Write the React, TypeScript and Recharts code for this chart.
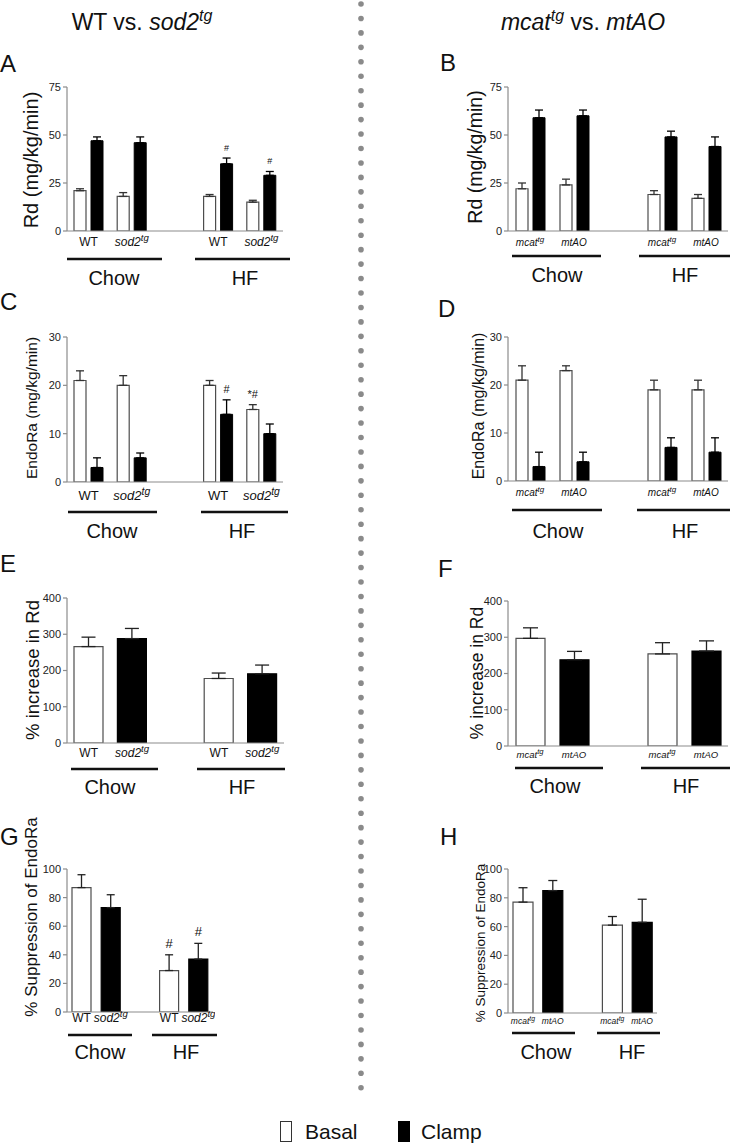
import React from "react";
import { BarChart, Bar, XAxis, YAxis, ErrorBar, LabelList, Cell } from "recharts";

const FONT = "'Liberation Sans', Arial, Helvetica, sans-serif";
const AXIS = "#8c8c8c";
const BASAL_STROKE = "#4d4d4d";

// genotypes per comparison, "^" marks the superscript part
const sodGenos = ["WT", "sod2^tg"];
const mtGenos = ["mcat^tg", "mtAO"];
const diets = ["Chow", "HF"];
const legendNames = ["Basal", "Clamp"];

// order of values: Chow-geno1, Chow-geno2, HF-geno1, HF-geno2
// A: Rd, WT vs sod2tg
const rdSodBasal = [21, 18, 18, 15];
const rdSodBasalErr = [1, 2, 1, 1];
const rdSodClamp = [47, 46, 35, 29];
const rdSodClampErr = [2, 3, 3, 2];
const rdSodClampMarks = ["", "", "#", "#"];

// B: Rd, mcattg vs mtAO
const rdMtBasal = [22, 24, 19, 17];
const rdMtBasalErr = [3, 3, 2, 2];
const rdMtClamp = [59, 60, 49, 44];
const rdMtClampErr = [4, 3, 3, 5];

// C: EndoRa, WT vs sod2tg
const endoSodBasal = [21, 20, 20, 15];
const endoSodBasalErr = [2, 2, 1, 1];
const endoSodClamp = [3, 5, 14, 10];
const endoSodClampErr = [2, 1, 3, 2];
const endoSodBasalMarks = ["", "", "", "*#"];
const endoSodClampMarks = ["", "", "#", ""];

// D: EndoRa, mcattg vs mtAO
const endoMtBasal = [21, 23, 19, 19];
const endoMtBasalErr = [3, 1, 2, 2];
const endoMtClamp = [3, 4, 7, 6];
const endoMtClampErr = [3, 2, 2, 3];

// E/F: % increase in Rd
const rdIncSod = [266, 288, 178, 191];
const rdIncSodErr = [26, 28, 15, 24];
const rdIncMt = [297, 238, 254, 262];
const rdIncMtErr = [29, 23, 31, 28];

// G/H: % suppression of EndoRa
const suppSod = [87, 73, 29, 37];
const suppSodErr = [9, 9, 11, 11];
const suppSodMarks = ["", "", "#", "#"];
const suppMt = [77, 85, 61, 63];
const suppMtErr = [10, 7, 6, 16];

const YW = 60;
const MT = 60;
const MR = 2;
const XH = 34;

type Frame = {
  left: number; top: number; w: number; h: number;
  yMax: number; ticks: number[];
  yLabel: string; yLabelSize: number; yLabelX: number; yLabelY: number;
  tickFont: number; tickDy: number; capW: number; markFont?: number; barSize: number;
};

// pair panels: one row per genotype, blank slot between the diets
const pairRows = (genos, basal, basalErr, clamp, clampErr, basalMarks = [], clampMarks = []) => {
  const rows = basal.map((b, i) => ({
    geno: genos[i % 2],
    basal: b,
    basalErr: [0, basalErr[i]],
    clamp: clamp[i],
    clampErr: [0, clampErr[i]],
    basalMark: basalMarks[i] || "",
    clampMark: clampMarks[i] || "",
  }));
  return [rows[0], rows[1], { geno: "" }, rows[2], rows[3]];
};

const singleRows = (genos, vals, errs, marks = []) => {
  const rows = vals.map((v, i) => ({
    geno: genos[i % 2],
    val: v,
    err: [0, errs[i]],
    mark: marks[i] || "",
    dark: i % 2 === 1,
  }));
  return [rows[0], rows[1], { geno: "" }, rows[2], rows[3]];
};

const GenoTick = (props: any) => {
  const { x, y, payload, fontSize, dy } = props;
  const v = payload?.value;
  if (!v) return null;
  const [base, sup] = String(v).split("^");
  return (
    <text x={x} y={y + dy} textAnchor="middle" fontSize={fontSize} fontFamily={FONT} fill="#111">
      <tspan fontStyle={base === "WT" ? "normal" : "italic"}>{base}</tspan>
      {sup && (
        <tspan fontStyle="italic" fontSize={fontSize * 0.8} dy={-fontSize * 0.38}>
          {sup}
        </tspan>
      )}
    </text>
  );
};

const markContent = (f: Frame, errs: number[]) => (props: any) => {
  const vb = props.viewBox || props;
  const { value, index } = props;
  if (!value || index == null) return null;
  const x = vb.x ?? props.x;
  const y = vb.y ?? props.y;
  const width = vb.width ?? props.width;
  const errPx = ((errs[index] || 0) * f.h) / f.yMax;
  return (
    <text
      x={x + width / 2}
      y={y - errPx - 7}
      textAnchor="middle"
      fontSize={f.markFont || 10}
      fontFamily={FONT}
      fill="#111"
    >
      {value}
    </text>
  );
};

const yLabelProp = (f: Frame) => ({
  content: (props: any) => {
    const vb = props.viewBox;
    const cx = vb.x + vb.width - (f.left - f.yLabelX);
    const cy = vb.y + vb.height / 2 + (f.yLabelY - (f.top + f.h / 2));
    return (
      <text
        x={cx}
        y={cy}
        transform={`rotate(-90 ${cx} ${cy})`}
        textAnchor="middle"
        dominantBaseline="central"
        fontSize={f.yLabelSize}
        fontFamily={FONT}
        fill="#111"
      >
        {f.yLabel}
      </text>
    );
  },
});

const chartBox = (f: Frame): React.CSSProperties => ({
  position: "absolute",
  left: f.left - YW,
  top: f.top - MT,
});

const commonAxes = (f: Frame) => [
  <XAxis
    key="x"
    dataKey="geno"
    interval={0}
    height={XH}
    tickLine={false}
    tickSize={0}
    tickMargin={0}
    axisLine={{ stroke: AXIS, strokeWidth: 1.2 }}
    tick={<GenoTick fontSize={f.tickFont} dy={f.tickDy} />}
  />,
  <YAxis
    key="y"
    width={YW}
    domain={[0, f.yMax]}
    ticks={f.ticks}
    allowDataOverflow
    tickSize={4}
    tickLine={{ stroke: AXIS, strokeWidth: 1.2 }}
    axisLine={{ stroke: AXIS, strokeWidth: 1.2 }}
    tick={{ fontSize: 11, fill: "#222", fontFamily: FONT }}
    label={yLabelProp(f)}
  />,
];

const PairPanel = ({ f, data, basalErr, clampErr }: any) => (
  <div style={chartBox(f)}>
    <BarChart
      width={YW + f.w + MR}
      height={MT + f.h + XH}
      data={data}
      margin={{ top: MT, right: MR, left: 0, bottom: 0 }}
      barGap={5}
    >
      {commonAxes(f)}
      <Bar dataKey="basal" fill="#ffffff" stroke={BASAL_STROKE} strokeWidth={1.2} barSize={f.barSize} isAnimationActive={false}>
        <ErrorBar dataKey="basalErr" width={f.capW} stroke="#333" strokeWidth={1.3} direction="y" />
        <LabelList dataKey="basalMark" content={markContent(f, basalErr)} />
      </Bar>
      <Bar dataKey="clamp" fill="#000000" stroke="#000000" strokeWidth={1} barSize={f.barSize} isAnimationActive={false}>
        <ErrorBar dataKey="clampErr" width={f.capW} stroke="#000" strokeWidth={1.3} direction="y" />
        <LabelList dataKey="clampMark" content={markContent(f, clampErr)} />
      </Bar>
    </BarChart>
  </div>
);

const SinglePanel = ({ f, data, errs }: any) => (
  <div style={chartBox(f)}>
    <BarChart
      width={YW + f.w + MR}
      height={MT + f.h + XH}
      data={data}
      margin={{ top: MT, right: MR, left: 0, bottom: 0 }}
    >
      {commonAxes(f)}
      <Bar dataKey="val" barSize={f.barSize} strokeWidth={1.2} isAnimationActive={false}>
        {data.map((d, i) => (
          <Cell key={i} fill={d.dark ? "#000" : "#fff"} stroke={d.dark ? "#000" : BASAL_STROKE} />
        ))}
        <ErrorBar dataKey="err" width={f.capW} stroke="#222" strokeWidth={1.3} direction="y" />
        <LabelList dataKey="mark" content={markContent(f, errs)} />
      </Bar>
    </BarChart>
  </div>
);

const fA: Frame = { left: 67, top: 87, w: 216, h: 144, yMax: 75, ticks: [0, 25, 50, 75], yLabel: "Rd (mg/kg/min)", yLabelSize: 20, yLabelX: 31, yLabelY: 160, tickFont: 12, tickDy: 15, capW: 4, markFont: 9, barSize: 12 };
const fB: Frame = { left: 508, top: 87, w: 220, h: 144, yMax: 75, ticks: [0, 25, 50, 75], yLabel: "Rd (mg/kg/min)", yLabelSize: 19.5, yLabelX: 475, yLabelY: 157, tickFont: 10, tickDy: 15, capW: 4, barSize: 12 };
const fC: Frame = { left: 67, top: 337, w: 216, h: 145, yMax: 30, ticks: [0, 10, 20, 30], yLabel: "EndoRa (mg/kg/min)", yLabelSize: 15.5, yLabelX: 31, yLabelY: 408, tickFont: 13, tickDy: 18, capW: 4, markFont: 11, barSize: 12 };
const fD: Frame = { left: 508, top: 337, w: 220, h: 144, yMax: 30, ticks: [0, 10, 20, 30], yLabel: "EndoRa (mg/kg/min)", yLabelSize: 16, yLabelX: 478, yLabelY: 406, tickFont: 10, tickDy: 15, capW: 4, barSize: 12 };
const fE: Frame = { left: 67, top: 598, w: 217, h: 145, yMax: 400, ticks: [0, 100, 200, 300, 400], yLabel: "% increase in Rd", yLabelSize: 18.5, yLabelX: 32, yLabelY: 670, tickFont: 12, tickDy: 14, capW: 7, barSize: 29 };
const fF: Frame = { left: 508, top: 601, w: 220, h: 145, yMax: 400, ticks: [0, 100, 200, 300, 400], yLabel: "% increase in Rd", yLabelSize: 17.5, yLabelX: 477, yLabelY: 673, tickFont: 9.5, tickDy: 12, capW: 7.5, barSize: 29 };
const fG: Frame = { left: 67, top: 869, w: 146, h: 143, yMax: 100, ticks: [0, 20, 40, 60, 80, 100], yLabel: "% Suppression of EndoRa", yLabelSize: 17, yLabelX: 31, yLabelY: 917, tickFont: 12, tickDy: 10, capW: 4, markFont: 13, barSize: 19 };
const fH: Frame = { left: 508, top: 869, w: 149, h: 144, yMax: 100, ticks: [0, 20, 40, 60, 80, 100], yLabel: "% Suppression of EndoRa", yLabelSize: 13.5, yLabelX: 480, yLabelY: 943, tickFont: 8.5, tickDy: 11, capW: 4.5, barSize: 20 };

// diet underline bars and labels: [x1, x2, lineY, textX, textBaseline] per diet
const dietGroups = [
  [[67, 162, 259, 114, 285], [195, 290, 259, 245, 285]],
  [[512, 601, 256, 557, 282], [639, 730, 256, 685, 282]],
  [[68, 157, 512, 112, 538], [201, 288, 512, 242, 538]],
  [[512, 602, 510, 558, 538], [637, 730, 510, 685, 538]],
  [[71, 158, 769, 110, 794], [197, 285, 769, 242, 794]],
  [[515, 603, 768, 555, 793], [641, 730, 768, 686, 793]],
  [[68, 132, 1035, 100, 1059], [152, 217, 1035, 186, 1059]],
  [[512, 575, 1033, 546, 1059], [597, 660, 1033, 632, 1059]],
];

const panelLetters = [
  ["A", 0, 72], ["B", 440, 71], ["C", 0, 310], ["D", 438, 317],
  ["E", 0, 572], ["F", 438, 577], ["G", 0, 845], ["H", 440, 845],
];

const Overlay = () => {
  const dots = [];
  for (let i = 0; i < 76; i++) dots.push(4 + i * 14.45);
  return (
    <svg width={730} height={1145} style={{ position: "absolute", left: 0, top: 0, pointerEvents: "none" }} fontFamily={FONT}>
      {dots.map((cy, i) => (
        <circle key={i} cx={361} cy={cy} r={2.8} fill="#8a8a8a" />
      ))}
      <text x={142} y={30} textAnchor="middle" fontSize={23} fill="#111">
        WT vs. <tspan fontStyle="italic">sod2</tspan>
        <tspan fontStyle="italic" fontSize={16} dy={-9}>tg</tspan>
      </text>
      <text x={583} y={30} textAnchor="middle" fontSize={23} fill="#111">
        <tspan fontStyle="italic">mcat</tspan>
        <tspan fontStyle="italic" fontSize={16} dy={-9}>tg</tspan>
        <tspan dy={9}> vs. </tspan>
        <tspan fontStyle="italic">mtAO</tspan>
      </text>
      {panelLetters.map(([t, x, y]) => (
        <text key={t as string} x={x as number} y={y as number} fontSize={24} fill="#111">
          {t}
        </text>
      ))}
      {dietGroups.map((g, pi) =>
        g.map(([x1, x2, ly, tx, ty], di) => (
          <g key={`${pi}-${di}`}>
            <line x1={x1} x2={x2} y1={ly} y2={ly} stroke="#111" strokeWidth={2.5} />
            <text x={tx} y={ty} textAnchor="middle" fontSize={20} fill="#111">
              {diets[di]}
            </text>
          </g>
        ))
      )}
      <rect x={280.5} y={1121.5} width={11} height={20} fill="#fff" stroke="#333" strokeWidth={1} />
      <text x={305} y={1139} fontSize={21} fill="#111">{legendNames[0]}</text>
      <rect x={398} y={1121} width={12} height={21} fill="#000" />
      <text x={421} y={1139} fontSize={21} fill="#111">{legendNames[1]}</text>
    </svg>
  );
};

export default function App() {
  return (
    <div style={{ position: "absolute", left: 0, top: 0, width: 730, height: 1145, background: "#fff", overflow: "hidden", fontFamily: FONT }}>
      <PairPanel f={fA} data={pairRows(sodGenos, rdSodBasal, rdSodBasalErr, rdSodClamp, rdSodClampErr, [], rdSodClampMarks)} basalErr={rdSodBasalErr} clampErr={rdSodClampErr} />
      <PairPanel f={fB} data={pairRows(mtGenos, rdMtBasal, rdMtBasalErr, rdMtClamp, rdMtClampErr)} basalErr={rdMtBasalErr} clampErr={rdMtClampErr} />
      <PairPanel f={fC} data={pairRows(sodGenos, endoSodBasal, endoSodBasalErr, endoSodClamp, endoSodClampErr, endoSodBasalMarks, endoSodClampMarks)} basalErr={endoSodBasalErr} clampErr={endoSodClampErr} />
      <PairPanel f={fD} data={pairRows(mtGenos, endoMtBasal, endoMtBasalErr, endoMtClamp, endoMtClampErr)} basalErr={endoMtBasalErr} clampErr={endoMtClampErr} />
      <SinglePanel f={fE} data={singleRows(sodGenos, rdIncSod, rdIncSodErr)} errs={rdIncSodErr} />
      <SinglePanel f={fF} data={singleRows(mtGenos, rdIncMt, rdIncMtErr)} errs={rdIncMtErr} />
      <SinglePanel f={fG} data={singleRows(sodGenos, suppSod, suppSodErr, suppSodMarks)} errs={suppSodErr} />
      <SinglePanel f={fH} data={singleRows(mtGenos, suppMt, suppMtErr)} errs={suppMtErr} />
      <Overlay />
    </div>
  );
}
